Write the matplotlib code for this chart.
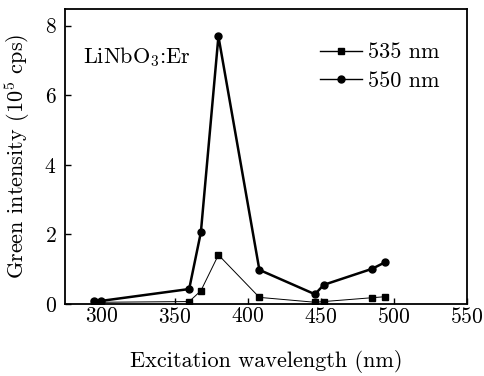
import matplotlib
matplotlib.use("Agg")
import matplotlib.pyplot as plt

plt.rcParams['font.family'] = ['cmr10', 'DejaVu Serif']
plt.rcParams['mathtext.fontset'] = 'cm'
plt.rcParams['axes.formatter.use_mathtext'] = True

wl = [295, 300, 360, 368, 380, 408, 446, 452, 485, 494]
i535 = [0.06, 0.05, 0.07, 0.38, 1.41, 0.19, 0.05, 0.07, 0.18, 0.21]
i550 = [0.09, 0.09, 0.43, 2.06, 7.69, 0.98, 0.28, 0.55, 1.01, 1.20]
xticks = [300, 350, 400, 450, 500, 550]
yticks = [0, 2, 4, 6, 8]

fig = plt.figure(figsize=(4.84, 3.76), dpi=100)
ax = fig.add_axes([0.134, 0.1915, 0.831, 0.785])
ax.plot(wl, i535, '-s', color='black', lw=0.7, ms=4.5, label='535 nm')
ax.plot(wl, i550, '-o', color='black', lw=1.8, ms=5, label='550 nm')
ax.set_xlim(275, 550)
ax.set_ylim(0, 8.48)
ax.set_xticks(xticks)
ax.set_yticks(yticks)
ax.tick_params(direction='in', length=4, width=1, labelsize=15.5, top=False, right=False)
ax.tick_params(axis='x', pad=2)
ax.tick_params(axis='y', pad=6)
for s in ax.spines.values():
    s.set_linewidth(1.3)
ax.set_xlabel('Excitation wavelength (nm)', fontsize=16, labelpad=17)
ax.set_ylabel('Green intensity (10$^5$ cps)', fontsize=16, labelpad=9)
ax.text(0.045, 0.837, 'LiNbO$_3$:Er', transform=ax.transAxes, fontsize=16, va='center')
leg = ax.legend(loc='upper left', bbox_to_anchor=(0.634, 0.885), frameon=False, fontsize=16,
                handlelength=1.9, handletextpad=0.27, labelspacing=0.4,
                borderpad=0, borderaxespad=0)
for h in leg.get_lines():
    h.set_linewidth(1.0)
fig.savefig('out.png', dpi=100)
